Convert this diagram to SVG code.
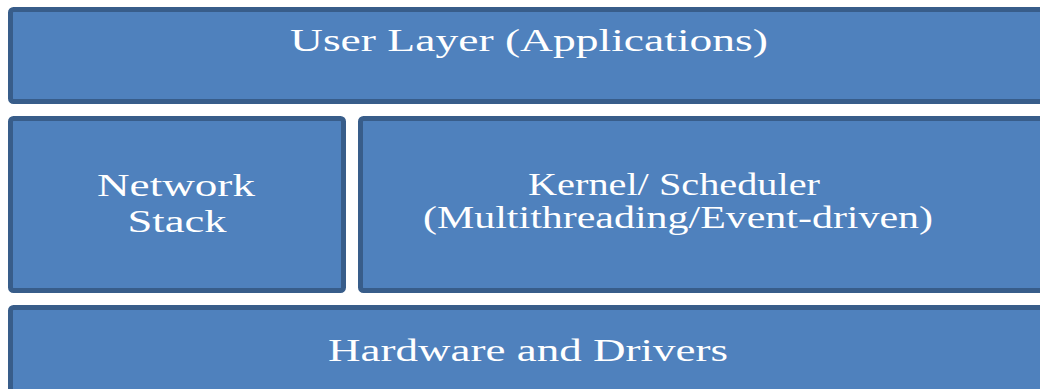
<svg xmlns="http://www.w3.org/2000/svg" width="1040" height="389" viewBox="0 0 1040 389">
<style>
.box{fill:#4f81bd;stroke:#385d8a;stroke-width:5}
.lbl{font-family:"Times New Roman","Liberation Serif",serif;font-size:31px;fill:#ffffff;text-anchor:middle}
</style>
<rect width="1040" height="389" fill="#ffffff"/>
<g id="user-layer">
<rect class="box" x="10.5" y="9.5" width="1050" height="92" rx="3"/>
<text class="lbl" x="529" y="51" textLength="478" lengthAdjust="spacingAndGlyphs">User Layer (Applications)</text>
</g>
<g id="network-stack">
<rect class="box" x="10.5" y="118.5" width="333" height="172" rx="3"/>
<text class="lbl" x="176" y="196" textLength="158" lengthAdjust="spacingAndGlyphs">Network</text>
<text class="lbl" x="177" y="232" textLength="99" lengthAdjust="spacingAndGlyphs">Stack</text>
</g>
<g id="kernel-scheduler">
<rect class="box" x="360.5" y="118.5" width="700" height="172" rx="3"/>
<text class="lbl" x="674" y="195" textLength="292" lengthAdjust="spacingAndGlyphs">Kernel/ Scheduler</text>
<text class="lbl" x="678" y="228" textLength="510" lengthAdjust="spacingAndGlyphs">(Multithreading/Event-driven)</text>
</g>
<g id="hardware-drivers">
<rect class="box" x="10.5" y="307.5" width="1050" height="100" rx="3"/>
<text class="lbl" x="528" y="361" textLength="400" lengthAdjust="spacingAndGlyphs">Hardware and Drivers</text>
</g>
<g id="connectors"></g>
</svg>
